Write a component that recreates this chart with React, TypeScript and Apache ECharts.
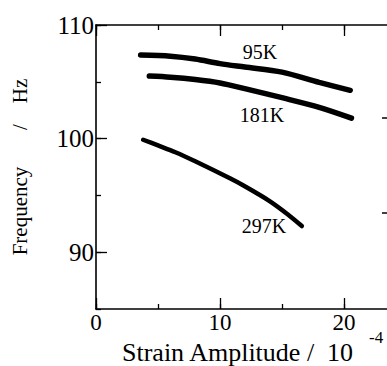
import React, { useEffect, useRef } from "react";
import * as echarts from "echarts";

const xTickLabels = [0, 10, 20];
const yTickLabels = [90, 100, 110];
const curveNames = ["95K", "181K", "297K"];
const strain95: number[] = [3.6, 6, 8, 10, 12, 15, 18, 20.5];
const freq95: number[] = [107.35, 107.25, 107.0, 106.6, 106.3, 105.85, 104.95, 104.25];
const strain181: number[] = [4.3, 6, 8, 10, 12, 15, 18, 20.6];
const freq181: number[] = [105.5, 105.4, 105.2, 104.9, 104.4, 103.6, 102.75, 101.8];
const strain297: number[] = [3.8, 5, 6.4, 8, 10.8, 12, 14, 15.5, 16.6];
const freq297: number[] = [99.9, 99.4, 98.8, 98.0, 96.5, 95.8, 94.5, 93.3, 92.3];

const FONT = "'Liberation Serif', 'DejaVu Serif', serif";

const pairs = (xs: number[], ys: number[]) => xs.map((x, i) => [x, ys[i]]);

export default function App() {
  const ref = useRef<HTMLDivElement>(null);
  useEffect(() => {
    document.body.style.margin = "0";
    const chart = echarts.init(ref.current!, undefined, { renderer: "svg" });
    const axisLine = { show: true, lineStyle: { color: "#000", width: 1.6 } };
    const tickStyle = { color: "#000", width: 1.3 };
    const series = [
      { name: curveNames[0], data: pairs(strain95, freq95), width: 5.5 },
      { name: curveNames[1], data: pairs(strain181, freq181), width: 5.5 },
      { name: curveNames[2], data: pairs(strain297, freq297), width: 4.5 },
    ].map((s) => ({
      type: "line",
      name: s.name,
      data: s.data,
      smooth: 0.3,
      showSymbol: false,
      symbol: "none",
      xAxisIndex: 0,
      yAxisIndex: 0,
      lineStyle: { color: "#000", width: s.width, cap: "round" },
    }));
    chart.setOption({
      animation: false,
      backgroundColor: "#fff",
      grid: { left: 96, top: 25, right: -19, bottom: 57, containLabel: false, outerBoundsMode: "none" },
      xAxis: [
        {
          type: "value",
          min: 0,
          max: 25,
          interval: 5,
          position: "bottom",
          axisLine,
          axisTick: { show: true, inside: true, length: 5, lineStyle: tickStyle },
          axisLabel: {
            customValues: xTickLabels,
            color: "#000",
            fontFamily: FONT,
            fontSize: 23,
            margin: 2,
          },
          splitLine: { show: false },
        },
        {
          type: "value",
          min: 0,
          max: 25,
          position: "bottom",
          axisLine: { show: false },
          axisTick: { show: true, inside: true, length: 11, customValues: xTickLabels, lineStyle: tickStyle },
          axisLabel: { show: false },
          splitLine: { show: false },
        },
        {
          type: "value",
          min: 0,
          max: 25,
          interval: 5,
          position: "top",
          axisLine,
          axisTick: { show: true, inside: true, length: 5, lineStyle: tickStyle },
          axisLabel: { show: false },
          splitLine: { show: false },
        },
        {
          type: "value",
          min: 0,
          max: 25,
          position: "top",
          axisLine: { show: false },
          axisTick: { show: true, inside: true, length: 11, customValues: xTickLabels, lineStyle: tickStyle },
          axisLabel: { show: false },
          splitLine: { show: false },
        },
      ],
      yAxis: [
        {
          type: "value",
          min: 85,
          max: 110,
          interval: 5,
          position: "left",
          axisLine,
          axisTick: { show: true, inside: true, length: 5, lineStyle: tickStyle },
          axisLabel: {
            customValues: yTickLabels,
            color: "#000",
            fontFamily: FONT,
            fontSize: 25,
            margin: 2,
          },
          splitLine: { show: false },
          name: "Frequency       /    Hz",
          nameLocation: "middle",
          nameGap: 66,
          nameRotate: 90,
          nameTextStyle: { fontFamily: FONT, fontSize: 21, color: "#000" },
        },
        {
          type: "value",
          min: 85,
          max: 110,
          position: "left",
          axisLine: { show: false },
          axisTick: { show: true, inside: true, length: 11, customValues: yTickLabels, lineStyle: tickStyle },
          axisLabel: { show: false },
          splitLine: { show: false },
        },
      ],
      graphic: [
        { type: "text", x: 122, y: 365, style: { text: "Strain Amplitude /  10", font: `26px ${FONT}`, fill: "#000", align: "left", verticalAlign: "bottom" } },
        { type: "text", x: 369, y: 346, style: { text: "-4", font: `17px ${FONT}`, fill: "#000", align: "left", verticalAlign: "bottom" } },
        { type: "text", x: 260, y: 52, style: { text: curveNames[0], font: `20px ${FONT}`, fill: "#000", align: "center", verticalAlign: "middle" } },
        { type: "text", x: 262, y: 115, style: { text: curveNames[1], font: `20px ${FONT}`, fill: "#000", align: "center", verticalAlign: "middle" } },
        { type: "text", x: 264, y: 226, style: { text: curveNames[2], font: `20px ${FONT}`, fill: "#000", align: "center", verticalAlign: "middle" } },
        { type: "line", shape: { x1: 382, y1: 118, x2: 387, y2: 118 }, style: { stroke: "#000", lineWidth: 1.5 } },
        { type: "line", shape: { x1: 382, y1: 213, x2: 387, y2: 213 }, style: { stroke: "#000", lineWidth: 1.5 } },
      ],
      series,
    });
    return () => chart.dispose();
  }, []);
  return <div ref={ref} style={{ width: 387, height: 366 }} />;
}
